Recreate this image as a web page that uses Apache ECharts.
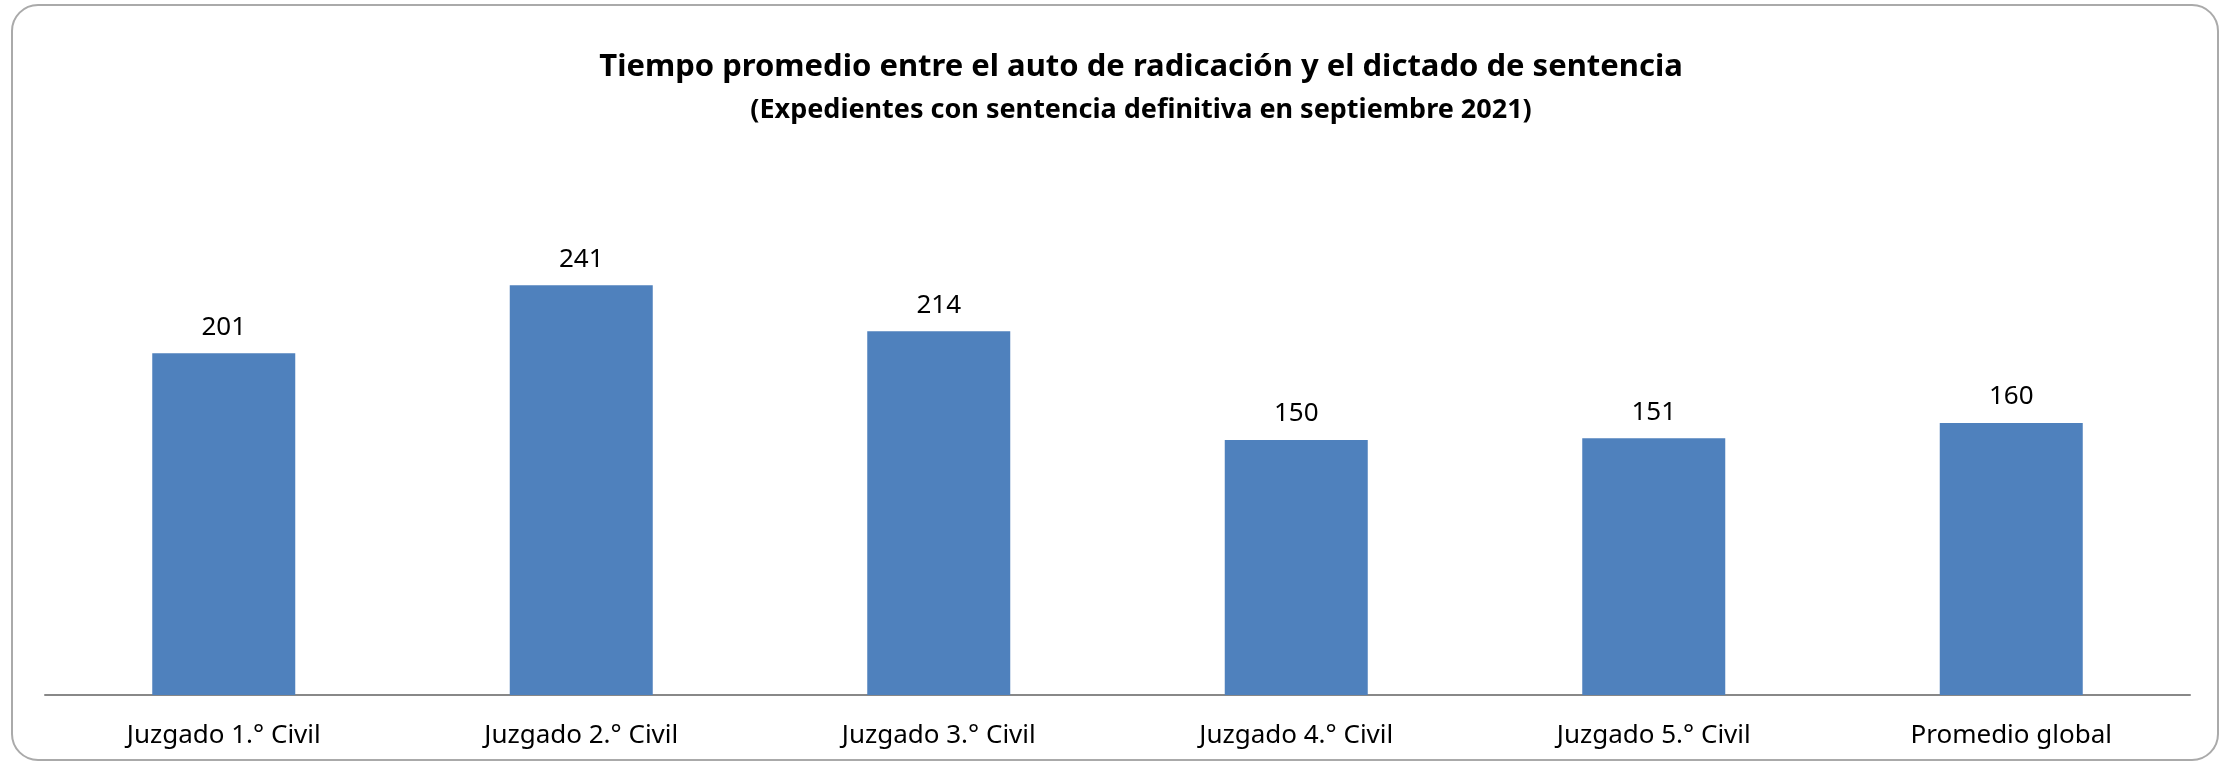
<!DOCTYPE html>
<html>
<head>
<meta charset="utf-8">
<script src="https://cdn.jsdelivr.net/npm/echarts@6/dist/echarts.min.js"></script>
<style>
  html, body { margin: 0; padding: 0; background: #fff; }
  #chart { width: 2226px; height: 766px; }
</style>
</head>
<body>
<div id="chart"></div>
<script>
// categories and values
const categories = [
  "Juzgado 1.° Civil",
  "Juzgado 2.° Civil",
  "Juzgado 3.° Civil",
  "Juzgado 4.° Civil",
  "Juzgado 5.° Civil",
  "Promedio global"
];
const dias = [201, 241, 214, 150, 151, 160];

const titulo = "Tiempo promedio entre el auto de radicación y el dictado de sentencia";
const subtitulo = "(Expedientes con sentencia definitiva en septiembre 2021)";

const FONT = "Noto Sans";

const chart = echarts.init(document.getElementById("chart"));
chart.setOption({
  backgroundColor: "#fff",
  animation: false,
  title: {
    text: titulo,
    subtext: subtitulo,
    left: 1136,
    textAlign: "center",
    top: 47,
    itemGap: 14,
    textStyle: { fontFamily: FONT, fontWeight: "bold", fontSize: 31, color: "#000" },
    subtextStyle: { fontFamily: FONT, fontWeight: "bold", fontSize: 27, color: "#000" }
  },
  graphic: [
    {
      type: "rect",
      shape: { x: 12, y: 5, width: 2206, height: 755, r: 26 },
      style: { fill: "none", stroke: "#aaaaaa", lineWidth: 2 },
      silent: true
    }
  ],
  grid: { left: 45, right: 36, top: 185, bottom: 71, containLabel: false },
  xAxis: {
    type: "category",
    data: categories,
    axisLine: { lineStyle: { color: "#888", width: 2 } },
    axisTick: { show: false },
    axisLabel: { fontFamily: FONT, fontSize: 26, color: "#000", margin: 28 }
  },
  yAxis: {
    type: "value",
    min: 0,
    max: 300,
    show: false,
    splitLine: { show: false }
  },
  series: [
    {
      type: "bar",
      data: dias,
      barWidth: "40%",
      itemStyle: { color: "#4F81BD" },
      label: {
        show: true,
        position: "top",
        distance: 13,
        fontFamily: FONT,
        fontSize: 26,
        color: "#000"
      }
    }
  ]
});
</script>
</body>
</html>
